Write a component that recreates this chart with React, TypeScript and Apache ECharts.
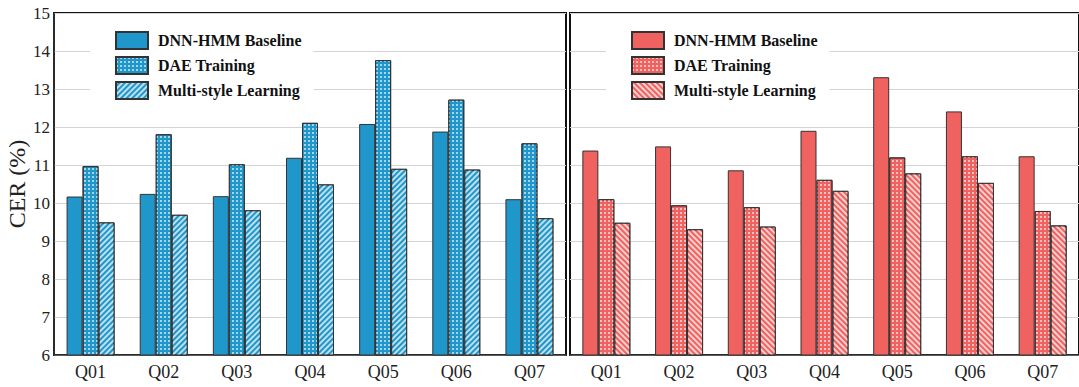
import React, { useEffect, useRef } from "react";
import * as echarts from "echarts";

const categories = ["Q01", "Q02", "Q03", "Q04", "Q05", "Q06", "Q07"];
const seriesNames = ["DNN-HMM Baseline", "DAE Training", "Multi-style Learning"];
const yTicks = { min: 6, max: 15, interval: 1 };

const leftBaseline = [10.17, 10.24, 10.18, 11.19, 12.08, 11.88, 10.1];
const leftDAE = [10.97, 11.81, 11.02, 12.11, 13.76, 12.72, 11.57];
const leftMulti = [9.49, 9.69, 9.81, 10.49, 10.9, 10.88, 9.6];

const rightBaseline = [11.38, 11.49, 10.86, 11.9, 13.31, 12.41, 11.23];
const rightDAE = [10.1, 9.94, 9.89, 10.61, 11.2, 11.23, 9.79];
const rightMulti = [9.48, 9.31, 9.38, 10.32, 10.78, 10.53, 9.41];

const BLUE = "#1f97cb";
const RED = "#ef625f";
const FONT = "Liberation Serif";

function dotDecal() {
  return {
    symbol: "rect",
    symbolSize: 1,
    dashArrayX: [2, 2],
    dashArrayY: [2, 2],
    rotation: 0,
    color: "rgba(255,255,255,0.6)",
  };
}
function stripeDecal(rot: number) {
  return {
    symbol: "rect",
    symbolSize: 1,
    dashArrayX: [1, 0],
    dashArrayY: [2, 2],
    rotation: rot,
    color: "rgba(255,255,255,0.7)",
  };
}

export default function App() {
  const ref = useRef<HTMLDivElement>(null);
  useEffect(() => {
    if (!ref.current) return;
    const chart = echarts.init(ref.current, undefined, { renderer: "svg" });

    const mkBar = (
      name: string,
      data: number[],
      color: string,
      idx: number,
      decal: any
    ) => ({
      type: "bar",
      name,
      data,
      xAxisIndex: idx,
      yAxisIndex: idx,
      barWidth: 16,
      barGap: "0%",
      itemStyle: {
        color,
        borderColor: "#333",
        borderWidth: 1,
        decal: decal || undefined,
      },
    });

    const xAxisBase = (gridIndex: number) => ({
      type: "category",
      gridIndex,
      data: categories,
      axisTick: { show: false },
      axisLine: { show: true, lineStyle: { color: "#333", width: 1.5 } },
      axisLabel: { fontFamily: FONT, fontSize: 18, color: "#222", margin: 8 },
    });
    const yAxisBase = (gridIndex: number, showLabels: boolean) => ({
      type: "value",
      gridIndex,
      min: yTicks.min,
      max: yTicks.max,
      interval: yTicks.interval,
      axisTick: { show: false },
      axisLine: { show: showLabels, lineStyle: { color: "#333", width: 1.5 } },
      axisLabel: {
        show: showLabels,
        fontFamily: FONT,
        fontSize: 17,
        color: "#222",
        margin: 4,
      },
      splitLine: { show: true, lineStyle: { color: "#d4d4d4", width: 1 } },
      name: showLabels ? "CER (%)" : "",
      nameLocation: "middle",
      nameGap: 24,
      nameTextStyle: { fontFamily: FONT, fontSize: 24, color: "#222" },
    });

    const legendBase = (left: number, data: string[], prefix: string) => ({
      orient: "vertical",
      left,
      top: 23,
      data,
      icon: "rect",
      selectedMode: false,
      backgroundColor: "#fff",
      padding: [8, 12, 8, 25],
      itemWidth: 32,
      itemHeight: 17,
      itemGap: 6,
      formatter: (n: string) => n.replace(prefix, ""),
      textStyle: {
        fontFamily: FONT,
        fontSize: 16,
        fontWeight: "bold",
        color: "#111",
        padding: [0, 0, 0, 5],
      },
    });

    const rightNames = seriesNames.map((n) => "R:" + n);

    chart.setOption({
      animation: false,
      grid: [
        {
          left: 54,
          right: 1079 - 566,
          top: 13,
          bottom: 32,
          show: true,
          borderColor: "#111",
          borderWidth: 2,
          backgroundColor: "transparent",
        },
        {
          left: 570,
          right: -4,
          top: 13,
          bottom: 32,
          show: true,
          borderColor: "#111",
          borderWidth: 2,
          backgroundColor: "transparent",
        },
      ],
      legend: [
        legendBase(90, seriesNames, ""),
        legendBase(606, rightNames, "R:"),
      ],
      xAxis: [xAxisBase(0), xAxisBase(1)],
      yAxis: [yAxisBase(0, true), yAxisBase(1, false)],
      series: [
        mkBar(seriesNames[0], leftBaseline, BLUE, 0, null),
        mkBar(seriesNames[1], leftDAE, BLUE, 0, dotDecal()),
        mkBar(seriesNames[2], leftMulti, BLUE, 0, stripeDecal(-Math.PI / 4)),
        mkBar(rightNames[0], rightBaseline, RED, 1, null),
        mkBar(rightNames[1], rightDAE, RED, 1, dotDecal()),
        mkBar(rightNames[2], rightMulti, RED, 1, stripeDecal(Math.PI / 4)),
      ],
    });
    return () => chart.dispose();
  }, []);
  return (
    <div
      ref={ref}
      style={{ position: "fixed", left: 0, top: 0, width: 1079, height: 387, background: "#fff" }}
    />
  );
}
